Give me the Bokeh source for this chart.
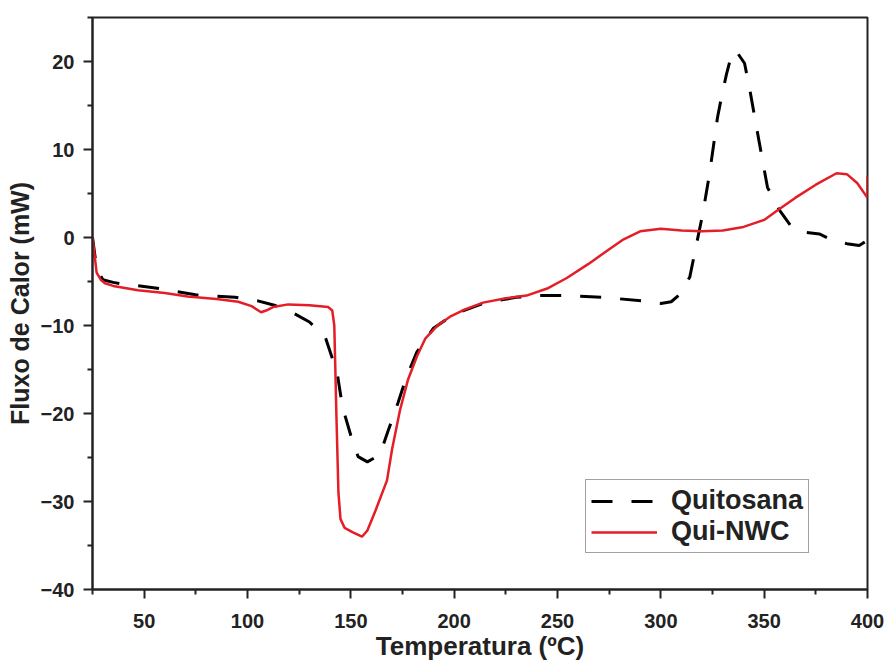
from bokeh.plotting import figure
from bokeh.models import FixedTicker, Range1d, Legend, LegendItem
from bokeh.embed import file_html
from bokeh.resources import INLINE

# Qui-NWC (red solid)
nwc_x = [25, 26, 27, 29, 31, 35, 40, 47, 60, 71, 85, 95.5, 102, 106.6, 109, 112.4, 119.7, 130, 139, 141,
         142, 143, 144, 145, 147, 151, 155.4, 158, 162, 167.5, 170, 173.8, 177.6, 182, 186, 192, 198, 205,
         214, 225, 235, 245, 254.5, 265, 274, 282, 290, 300, 310, 320, 330, 340, 350, 356, 365, 375, 385,
         390, 395, 400, 400]
nwc_y = [0, -2, -4, -4.8, -5.2, -5.5, -5.7, -6.0, -6.3, -6.7, -7.0, -7.3, -7.8, -8.5, -8.3, -7.9, -7.6, -7.7, -7.9, -8.3,
         -10, -20, -29, -32, -33, -33.5, -34.0, -33.3, -31, -27.6, -24, -19.6, -16.2, -13.5, -11.5, -10.0, -9.0, -8.2,
         -7.4, -6.9, -6.6, -5.8, -4.6, -3.0, -1.5, -0.2, 0.7, 1.0, 0.8, 0.7, 0.8, 1.2, 2.0, 3.0, 4.5, 6.0, 7.3,
         7.2, 6.2, 4.5, 7.0]

# Quitosana (black dashed)
qui_x = [25, 27, 30, 35, 40, 54.5, 74.8, 94, 105, 113, 120, 130, 137.6, 143.4, 146, 150, 153.5, 158, 164, 168,
         172.8, 177, 182, 190, 200, 215, 230, 240, 252.5, 272, 291, 300, 305, 309, 314, 317.3, 320.3, 323.6,
         327.4, 329.3, 331.8, 334.7, 337, 340.5, 342.9, 347.7, 351.6, 357.4, 363.6, 370, 376.7, 383, 390, 396, 400]
qui_y = [0, -3.5, -4.8, -5.1, -5.3, -5.7, -6.5, -6.8, -7.2, -7.7, -8.3, -9.6, -11.3, -15.4, -19.3, -22.5, -24.9, -25.5, -24.7, -22,
         -18.8, -15.8, -13, -10.3, -8.7, -7.4, -6.8, -6.6, -6.6, -6.8, -7.2, -7.5, -7.3, -6.5, -4.5, -0.7, 2.7, 7.3,
         13.6, 15.9, 18.6, 21.2, 21.0, 19.8, 17, 10.7, 5.7, 3.1, 1.1, 0.6, 0.4, -0.3, -0.7, -0.9, -0.3]

x_major = [50, 100, 150, 200, 250, 300, 350, 400]
x_minor = [25, 75, 125, 175, 225, 275, 325, 375]
y_major = [-40, -30, -20, -10, 0, 10, 20]
y_minor = [-35, -25, -15, -5, 5, 15, 25]

FONT = "Liberation Sans"
AX = "#222222"

p = figure(width=887, height=663, output_backend="svg", toolbar_location=None,
           x_range=Range1d(25, 400), y_range=Range1d(-40, 25),
           min_border_left=92, min_border_right=20, min_border_top=17, min_border_bottom=73)
p.xgrid.visible = False
p.ygrid.visible = False
p.outline_line_color = AX
p.outline_line_width = 2
p.background_fill_color = "white"
p.border_fill_color = "white"

l_qui = p.line(qui_x, qui_y, line_color="black", line_width=3, line_dash="21 19")
l_nwc = p.line(nwc_x, nwc_y, line_color="#e41e26", line_width=2.5)

for ax, maj, mn in ((p.xaxis[0], x_major, x_minor), (p.yaxis[0], y_major, y_minor)):
    ax.ticker = FixedTicker(ticks=maj, minor_ticks=mn)
    ax.axis_line_color = AX
    ax.axis_line_width = 2
    ax.major_tick_line_color = AX
    ax.major_tick_line_width = 2
    ax.minor_tick_line_color = AX
    ax.minor_tick_line_width = 2
    ax.major_tick_in = 0
    ax.major_tick_out = 9
    ax.minor_tick_in = 0
    ax.minor_tick_out = 5
    ax.major_label_text_font = FONT
    ax.major_label_text_font_style = "bold"
    ax.major_label_text_font_size = "20px"
    ax.major_label_text_color = AX
    ax.axis_label_text_font = FONT
    ax.axis_label_text_font_style = "bold"
    ax.axis_label_text_color = AX

p.xaxis.axis_label = "Temperatura (ºC)"
p.yaxis.axis_label = "Fluxo de Calor (mW)"
p.xaxis.axis_label_text_font_size = "26px"
p.yaxis.axis_label_text_font_size = "25px"
p.xaxis.major_label_standoff = 15
p.yaxis.major_label_standoff = 9
p.xaxis.axis_label_standoff = 0
p.yaxis.axis_label_standoff = 4

legend = Legend(items=[LegendItem(label="Quitosana", renderers=[l_qui]),
                       LegendItem(label="Qui-NWC", renderers=[l_nwc])],
                location=(493, 36))
legend.label_text_font = FONT
legend.label_text_font_style = "bold"
legend.label_text_font_size = "27px"
legend.label_text_color = AX
legend.glyph_width = 66
legend.glyph_height = 30
legend.label_height = 30
legend.label_standoff = 14
legend.padding = 5
legend.spacing = 0
legend.margin = 0
legend.border_line_color = "#444444"
legend.border_line_width = 1
legend.background_fill_color = "white"
legend.background_fill_alpha = 1
p.add_layout(legend, "center")

open("out.html", "w").write(file_html(p, INLINE))
